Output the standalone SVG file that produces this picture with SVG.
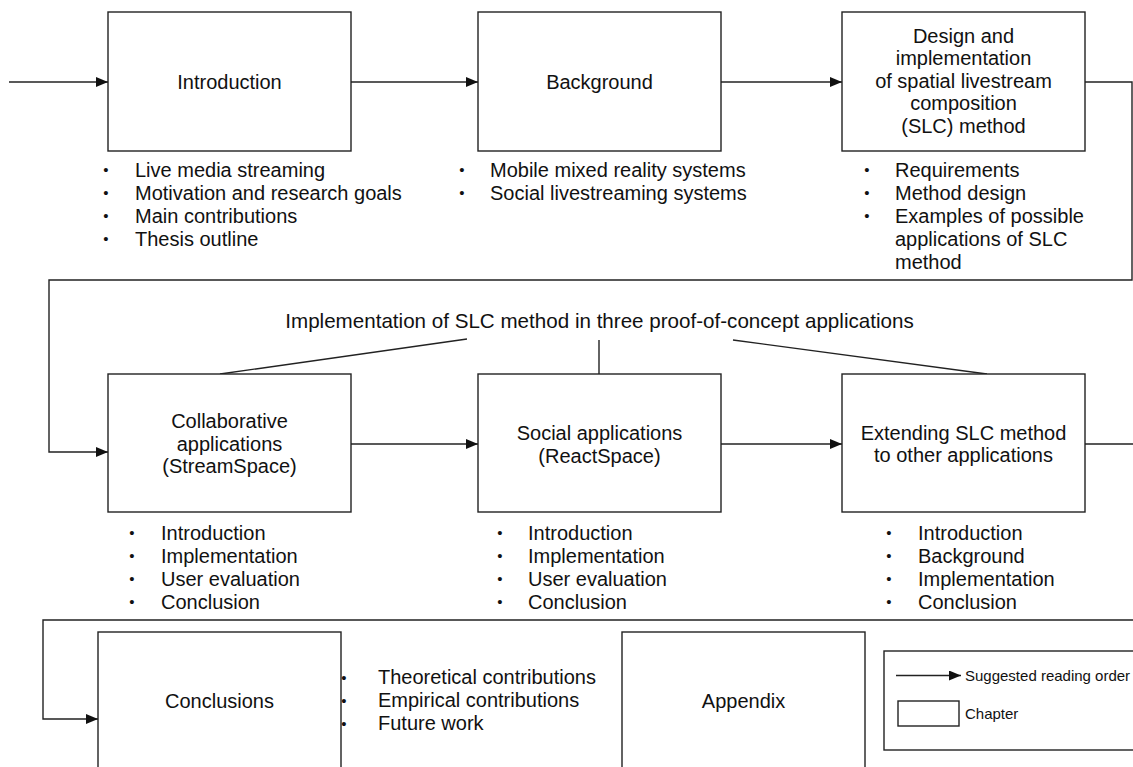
<svg xmlns="http://www.w3.org/2000/svg" width="1133" height="767" viewBox="0 0 1133 767">
<defs>
<marker id="ah" viewBox="0 0 12 10" refX="12" refY="5" markerWidth="12" markerHeight="10" markerUnits="userSpaceOnUse" orient="auto">
<path d="M0,0 L12,5 L0,10 z" fill="#111"/>
</marker>
<style>
text{font-family:"Liberation Sans",Arial,Helvetica,sans-serif;font-size:20px;fill:#111}
.c{text-anchor:middle}
.b{text-anchor:middle;font-size:15px}
.box{fill:#fff;stroke:#222;stroke-width:1.4}
.ln{fill:none;stroke:#222;stroke-width:1.4}
.arr{fill:none;stroke:#222;stroke-width:1.4;marker-end:url(#ah)}
.lg{font-size:15px}
.t{font-size:20.6px}
</style>
</defs>
<rect width="1133" height="767" fill="#fff"/>

<g id="connectors">
<path class="arr" d="M9,82 H108"/>
<path class="arr" d="M351,82 H478"/>
<path class="arr" d="M721,82 H842"/>
<path class="arr" d="M1085,82 H1132 V280 H49 V452 H108"/>
<path class="arr" d="M351,444 H478"/>
<path class="arr" d="M721,444 H842"/>
<path class="arr" d="M1085,444 H1140 V620 H43 V719 H98"/>
<path class="ln" d="M467,339 L220,374"/>
<path class="ln" d="M599,340 V374"/>
<path class="ln" d="M733,340 L987,374"/>
</g>

<g id="introduction">
<rect class="box" x="108" y="12" width="243" height="139"/>
<text class="c" x="229.5" y="89">Introduction</text>
<text class="b" x="106" y="175">•</text><text x="135" y="176.5">Live media streaming</text>
<text class="b" x="106" y="198">•</text><text x="135" y="199.5">Motivation and research goals</text>
<text class="b" x="106" y="221">•</text><text x="135" y="222.5">Main contributions</text>
<text class="b" x="106" y="244">•</text><text x="135" y="245.5">Thesis outline</text>
</g>

<g id="background">
<rect class="box" x="478" y="12" width="243" height="139"/>
<text class="c" x="599.5" y="89">Background</text>
<text class="b" x="462" y="175">•</text><text x="490" y="176.5">Mobile mixed reality systems</text>
<text class="b" x="462" y="198">•</text><text x="490" y="199.5">Social livestreaming systems</text>
</g>

<g id="design">
<rect class="box" x="842" y="12" width="243" height="139"/>
<text class="c" x="963.5" y="42.5">Design and</text>
<text class="c" x="963.5" y="65">implementation</text>
<text class="c" x="963.5" y="87.5">of spatial livestream</text>
<text class="c" x="963.5" y="110">composition</text>
<text class="c" x="963.5" y="132.5">(SLC) method</text>
<text class="b" x="867" y="175">•</text><text x="895" y="176.5">Requirements</text>
<text class="b" x="867" y="198">•</text><text x="895" y="199.5">Method design</text>
<text class="b" x="867" y="221">•</text><text x="895" y="222.5">Examples of possible</text>
<text x="895" y="245.5">applications of SLC</text>
<text x="895" y="268.5">method</text>
</g>

<g id="implementation-label">
<text class="c t" x="599.5" y="328">Implementation of SLC method in three proof-of-concept applications</text>
</g>

<g id="collaborative">
<rect class="box" x="108" y="374" width="243" height="138"/>
<text class="c" x="229.5" y="428">Collaborative</text>
<text class="c" x="229.5" y="450.5">applications</text>
<text class="c" x="229.5" y="473">(StreamSpace)</text>
<text class="b" x="132" y="538">•</text><text x="161" y="539.5">Introduction</text>
<text class="b" x="132" y="561">•</text><text x="161" y="562.5">Implementation</text>
<text class="b" x="132" y="584">•</text><text x="161" y="585.5">User evaluation</text>
<text class="b" x="132" y="607">•</text><text x="161" y="608.5">Conclusion</text>
</g>

<g id="social">
<rect class="box" x="478" y="374" width="243" height="138"/>
<text class="c" x="599.5" y="440">Social applications</text>
<text class="c" x="599.5" y="462.5">(ReactSpace)</text>
<text class="b" x="500" y="538">•</text><text x="528" y="539.5">Introduction</text>
<text class="b" x="500" y="561">•</text><text x="528" y="562.5">Implementation</text>
<text class="b" x="500" y="584">•</text><text x="528" y="585.5">User evaluation</text>
<text class="b" x="500" y="607">•</text><text x="528" y="608.5">Conclusion</text>
</g>

<g id="extending">
<rect class="box" x="842" y="374" width="243" height="138"/>
<text class="c" x="963.5" y="439.5">Extending SLC method</text>
<text class="c" x="963.5" y="462">to other applications</text>
<text class="b" x="889" y="538">•</text><text x="918" y="539.5">Introduction</text>
<text class="b" x="889" y="561">•</text><text x="918" y="562.5">Background</text>
<text class="b" x="889" y="584">•</text><text x="918" y="585.5">Implementation</text>
<text class="b" x="889" y="607">•</text><text x="918" y="608.5">Conclusion</text>
</g>

<g id="conclusions">
<rect class="box" x="98" y="632" width="243" height="145"/>
<text class="c" x="219.5" y="708">Conclusions</text>
<text class="b" x="344" y="682.5">•</text><text x="378" y="684">Theoretical contributions</text>
<text class="b" x="344" y="705.5">•</text><text x="378" y="707">Empirical contributions</text>
<text class="b" x="344" y="728.5">•</text><text x="378" y="730">Future work</text>
</g>

<g id="appendix">
<rect class="box" x="622" y="632" width="243" height="145"/>
<text class="c" x="743.5" y="708">Appendix</text>
</g>

<g id="legend">
<rect class="box" x="884" y="651" width="260" height="99"/>
<path class="arr" d="M896,675.5 H961"/>
<text class="lg" x="965" y="681">Suggested reading order</text>
<rect class="box" x="898" y="701" width="61" height="25"/>
<text class="lg" x="965" y="719">Chapter</text>
</g>
</svg>
